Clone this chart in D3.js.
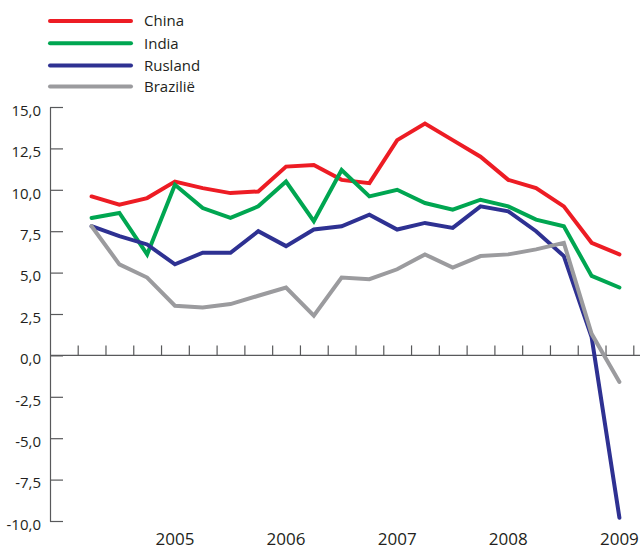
<!DOCTYPE html>
<html>
<head>
<meta charset="utf-8">
<script src="https://cdn.jsdelivr.net/npm/d3@7"></script>
<style>
  body { margin: 0; background: #fff; }
  svg text { font-family: "Open Sans", sans-serif; fill: #231f20; }
</style>
</head>
<body>
<svg width="640" height="550"></svg>
<script>
// quarters 2004 Q2 .. 2009 Q1, year label under each Q1
const years = ["2005", "2006", "2007", "2008", "2009"];
const yearIndex = [3, 7, 11, 15, 19];

const china = [9.6, 9.1, 9.5, 10.5, 10.1, 9.8, 9.9, 11.4, 11.5, 10.6, 10.4, 13.0, 14.0, 13.0, 12.0, 10.6, 10.1, 9.0, 6.8, 6.1];
const india = [8.3, 8.6, 6.1, 10.3, 8.9, 8.3, 9.0, 10.5, 8.1, 11.2, 9.6, 10.0, 9.2, 8.8, 9.4, 9.0, 8.2, 7.8, 4.8, 4.1];
const rusland = [7.8, 7.2, 6.7, 5.5, 6.2, 6.2, 7.5, 6.6, 7.6, 7.8, 8.5, 7.6, 8.0, 7.7, 9.0, 8.7, 7.5, 6.0, 1.1, -9.8];
const brazilie = [7.8, 5.5, 4.7, 3.0, 2.9, 3.1, 3.6, 4.1, 2.4, 4.7, 4.6, 5.2, 6.1, 5.3, 6.0, 6.1, 6.4, 6.8, 1.3, -1.6];

const seriesNames = ["China", "India", "Rusland", "Brazili\u00eb"];
const seriesColors = ["#ed1c24", "#00a651", "#2e3192", "#9b9b9e"];
const yTicks = [15, 12.5, 10, 7.5, 5, 2.5, 0, -2.5, -5, -7.5, -10];

const series = [china, india, rusland, brazilie].map((values, i) => ({
  name: seriesNames[i], color: seriesColors[i], values: values
}));

const svg = d3.select("svg");
const axisColor = "#58595b";

const x = d3.scaleLinear().domain([0, china.length]).range([77.7, 633.3]);
const y = d3.scaleLinear().domain([-10, 15]).range([521, 107]);

const nl = d3.formatLocale({ decimal: ",", thousands: ".", grouping: [3], currency: ["€", ""], minus: "-" });
const fmt = nl.format(".1f");

// y axis, ticks point into the plot
const yAxis = svg.append("g")
  .attr("transform", "translate(50,0)")
  .call(d3.axisLeft(y).tickValues(yTicks).tickSizeInner(-13).tickSizeOuter(0).tickPadding(9).tickFormat(fmt));
yAxis.selectAll("path, line").attr("stroke", axisColor).attr("stroke-width", 1.2);
yAxis.selectAll("text")
  .attr("font-size", 15)
  .attr("dy", "0.95em")
  .attr("y", -6)
  .style("font-family", "'Open Sans', sans-serif")
  .attr("fill", "#231f20");

// zero line across the whole width
svg.append("line")
  .attr("x1", 50).attr("x2", 640)
  .attr("y1", y(0)).attr("y2", y(0))
  .attr("stroke", axisColor).attr("stroke-width", 1.2);

// quarter ticks on the zero line
const xAxis = svg.append("g")
  .attr("transform", `translate(0,${y(0)})`)
  .call(d3.axisBottom(x).tickValues(d3.range(0, china.length + 1)).tickSizeInner(-10).tickSizeOuter(0).tickFormat(""));
xAxis.select(".domain").remove();
xAxis.selectAll("line").attr("stroke", axisColor).attr("stroke-width", 1.2);

// year labels at the bottom
svg.append("g")
  .selectAll("text")
  .data(years)
  .join("text")
  .attr("x", (d, i) => x(yearIndex[i] + 0.5))
  .attr("y", 545)
  .attr("text-anchor", "middle")
  .attr("font-size", 17)
  .text(d => d);

const line = d3.line()
  .x((d, i) => x(i + 0.5))
  .y(d => y(d));

svg.append("g")
  .selectAll("path")
  .data(series)
  .join("path")
  .attr("d", d => line(d.values))
  .attr("fill", "none")
  .attr("stroke", d => d.color)
  .attr("stroke-width", 4)
  .attr("stroke-linejoin", "miter")
  .attr("stroke-linecap", "round");

// legend
const legendY = [21, 43.3, 65.5, 86.5];
const legend = svg.append("g")
  .selectAll("g")
  .data(series)
  .join("g")
  .attr("transform", (d, i) => `translate(0,${legendY[i]})`);
legend.append("line")
  .attr("x1", 50).attr("x2", 131)
  .attr("stroke", d => d.color)
  .attr("stroke-width", 4)
  .attr("stroke-linecap", "round");
legend.append("text")
  .attr("x", 144)
  .attr("dy", "0.35em")
  .attr("font-size", 15)
  .text(d => d.name);
</script>
</body>
</html>
